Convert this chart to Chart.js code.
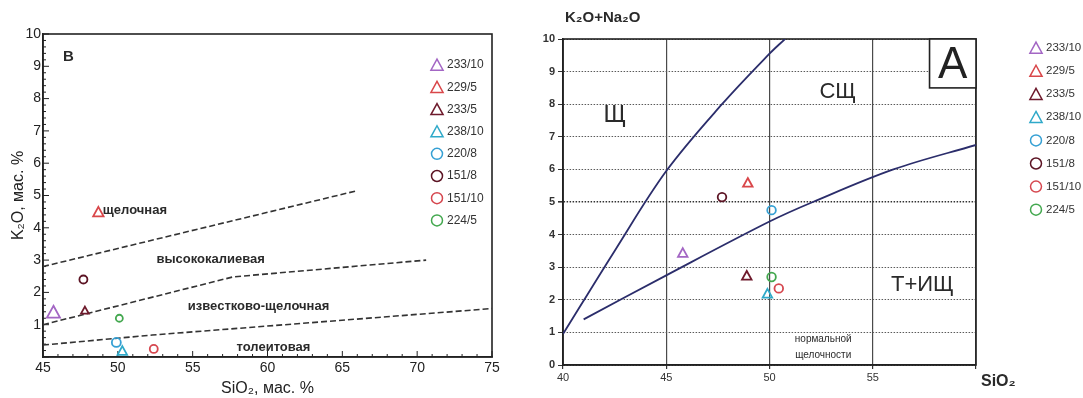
<!DOCTYPE html>
<html>
<head>
<meta charset="utf-8">
<script src="https://cdn.jsdelivr.net/npm/chart.js@4.4.1/dist/chart.umd.min.js"></script>
<style>
  html, body { margin: 0; padding: 0; background: #fff; }
  #wrap { position: relative; width: 1083px; height: 398px; overflow: hidden; }
  #left { position: absolute; left: 0; top: 0; }
  #right { position: absolute; left: 530px; top: 0; }
</style>
</head>
<body>
<div id="wrap">
  <canvas id="left" width="530" height="398"></canvas>
  <canvas id="right" width="553" height="398"></canvas>
</div>
<script>
// samples (same order in both diagrams and legends)
const samples = ['233/10', '229/5', '233/5', '238/10', '220/8', '151/8', '151/10', '224/5'];
const sampleShapes = ['triangle', 'triangle', 'triangle', 'triangle', 'circle', 'circle', 'circle', 'circle'];
const sampleColors = ['#a366c4', '#d9474a', '#6e1a2c', '#2fa9c9', '#35a0d4', '#5c1424', '#d6474f', '#43a84f'];

// diagram B: K2O vs SiO2
const kSiO2 = [45.7, 48.7, 47.8, 50.3, 49.9, 47.7, 52.4, 50.1];
const kK2O = [1.4, 4.5, 1.45, 0.2, 0.45, 2.4, 0.25, 1.2];
const bLeftRadius = [7.5, 6, 4.5, 5.5, 4.5, 4, 4, 3.5];

// boundary lines of diagram B
const lineAlkX = [45, 66];
const lineAlkY = [2.8, 5.15];
const lineHighKX = [45, 57.7, 70.6];
const lineHighKY = [1.0, 2.48, 3.0];
const lineTholX = [45, 52.3, 75];
const lineTholY = [0.37, 0.68, 1.5];

// diagram A: K2O+Na2O vs SiO2
const tasSiO2 = [45.8, 48.95, 48.9, 49.9, 50.1, 47.7, 50.45, 50.1];
const tasAlk = [3.45, 5.6, 2.75, 2.2, 4.75, 5.15, 2.35, 2.7];

// boundary curves of diagram A
const curveAlkX = [40, 42.5, 45, 47.7, 50, 50.75];
const curveAlkY = [0.95, 3.5, 5.95, 8.0, 9.55, 10];
const curveSubX = [41, 45, 50, 52.1, 56, 60];
const curveSubY = [1.4, 2.75, 4.4, 5.0, 6.0, 6.75];

// tick labels
const bTicksX = [45, 50, 55, 60, 65, 70, 75];
const bTicksY = [1, 2, 3, 4, 5, 6, 7, 8, 9, 10];
const aTicksX = [40, 45, 50, 55];
const aTicksY = [0, 1, 2, 3, 4, 5, 6, 7, 8, 9, 10];

const FONT = "'Liberation Sans', Arial, sans-serif";

function zip(xs, ys) {
  return xs.map((x, i) => ({ x, y: ys[i] }));
}

function drawMarker(ctx, shape, x, y, r, color, lw) {
  ctx.save();
  ctx.strokeStyle = color;
  ctx.lineWidth = lw;
  ctx.beginPath();
  if (shape === 'triangle') {
    for (let k = 0; k < 3; k++) {
      const a = -Math.PI / 2 + k * 2 * Math.PI / 3;
      const px = x + Math.cos(a) * r;
      const py = y + Math.sin(a) * r * 1.05;
      if (k === 0) ctx.moveTo(px, py); else ctx.lineTo(px, py);
    }
    ctx.closePath();
  } else {
    ctx.arc(x, y, r, 0, Math.PI * 2);
  }
  ctx.stroke();
  ctx.restore();
}

function tickFilter(list) {
  return (v) => (list.includes(v) ? v : '');
}

// frame, minor ticks, texts and legend are drawn by this plugin
function framePlugin(opts) {
  return {
    id: 'frame',
    beforeDatasetsDraw(chart) {
      const { ctx, chartArea: a, scales } = chart;
      ctx.save();
      ctx.strokeStyle = '#222';
      ctx.lineWidth = 1.6;
      ctx.strokeRect(a.left, a.top, a.right - a.left, a.bottom - a.top);
      if (opts.minorTicks) {
        ctx.lineWidth = 1;
        ctx.beginPath();
        for (let i = 0; i <= 50; i++) {
          const y = scales.y.getPixelForValue(i / 5);
          const len = i % 5 === 0 ? 6 : 3;
          ctx.moveTo(a.left, y);
          ctx.lineTo(a.left + len, y);
        }
        for (let v = 45; v <= 75; v++) {
          const x = scales.x.getPixelForValue(v);
          const len = v % 5 === 0 ? 6 : 3;
          ctx.moveTo(x, a.bottom);
          ctx.lineTo(x, a.bottom - len);
        }
        ctx.stroke();
      }
      ctx.restore();
    },
    afterDraw(chart) {
      const { ctx, chartArea: a, scales } = chart;
      ctx.save();
      ctx.fillStyle = '#2a2a2a';
      ctx.textBaseline = 'middle';
      for (const t of opts.texts) {
        ctx.font = t.font;
        ctx.textAlign = t.align || 'center';
        const x = t.px !== undefined ? t.px(a) : scales.x.getPixelForValue(t.x);
        const y = t.py !== undefined ? t.py(a) : scales.y.getPixelForValue(t.y);
        ctx.fillText(t.text, x, y);
      }
      if (opts.box) {
        const x0 = scales.x.getPixelForValue(opts.box.x);
        const y1 = scales.y.getPixelForValue(opts.box.y);
        ctx.fillStyle = '#fff';
        ctx.fillRect(x0, a.top, a.right - x0, y1 - a.top);
        ctx.strokeStyle = '#222';
        ctx.lineWidth = 1.6;
        ctx.strokeRect(x0, a.top, a.right - x0, y1 - a.top);
        ctx.fillStyle = '#222';
        ctx.font = '44px ' + FONT;
        ctx.textAlign = 'center';
        ctx.fillText(opts.box.text, (x0 + a.right) / 2, (a.top + y1) / 2 + 2);
      }
      // legend
      const lg = opts.legend;
      ctx.font = lg.font + 'px ' + FONT;
      ctx.textAlign = 'left';
      samples.forEach((name, i) => {
        const y = lg.y + i * lg.step;
        const r = sampleShapes[i] === 'triangle' ? 7 : 5.5;
        drawMarker(ctx, sampleShapes[i], lg.x, y + (sampleShapes[i] === 'triangle' ? 1.5 : 0), r, sampleColors[i], 1.5);
        ctx.fillStyle = '#333';
        ctx.fillText(name, lg.x + 10, y);
      });
      ctx.restore();
    }
  };
}

// markers drawn through the scales
const markerPlugin = {
  id: 'markers',
  afterDatasetsDraw(chart) {
    const { ctx } = chart;
    chart.data.datasets.forEach((ds, di) => {
      if (ds.sample === undefined) return;
      const meta = chart.getDatasetMeta(di);
      meta.data.forEach((pt) => {
        const i = ds.sample;
        const dy = sampleShapes[i] === 'triangle' ? ds.markerR * 0.25 : 0;
        drawMarker(ctx, sampleShapes[i], pt.x, pt.y + dy, ds.markerR, sampleColors[i], 1.8);
      });
    });
  }
};

function boundary(xs, ys, color, dash, width, tension) {
  return {
    data: zip(xs, ys),
    showLine: true,
    borderColor: color,
    borderWidth: width,
    borderDash: dash,
    pointRadius: 0,
    tension: tension,
    fill: false,
  };
}

// ---------- diagram B ----------
const leftDatasets = [
  boundary(lineAlkX, lineAlkY, '#333', [6, 3], 1.6, 0),
  boundary(lineHighKX, lineHighKY, '#333', [6, 3], 1.6, 0),
  boundary(lineTholX, lineTholY, '#333', [6, 3], 1.6, 0),
];
samples.forEach((name, i) => {
  leftDatasets.push({
    label: name,
    sample: i,
    markerR: bLeftRadius[i],
    data: [{ x: kSiO2[i], y: kK2O[i] }],
    pointRadius: 0,
    showLine: false,
  });
});

new Chart(document.getElementById('left'), {
  type: 'scatter',
  data: { datasets: leftDatasets },
  options: {
    responsive: false,
    animation: false,
    layout: { padding: { top: 34, right: 38, left: 0, bottom: 0 } },
    plugins: { legend: { display: false }, tooltip: { enabled: false } },
    scales: {
      x: {
        type: 'linear', min: 45, max: 75,
        afterBuildTicks: (s) => { s.ticks = bTicksX.map(v => ({ value: v })); },
        afterFit: (s) => { s.height = 41; },
        ticks: { color: '#222', padding: 3, font: { size: 14, family: FONT }, callback: tickFilter(bTicksX) },
        grid: { display: false, drawTicks: false },
        border: { display: true, color: '#222', width: 1.6 },
        title: { display: true, text: 'SiO₂, мас. %', color: '#222', padding: 0, font: { size: 16, family: FONT } },
      },
      y: {
        type: 'linear', min: 0, max: 10,
        afterBuildTicks: (s) => { s.ticks = bTicksY.map(v => ({ value: v })); },
        afterFit: (s) => { s.width = 43; },
        ticks: { color: '#222', padding: 2, font: { size: 14, family: FONT }, callback: tickFilter(bTicksY) },
        grid: { display: false, drawTicks: false },
        border: { display: true, color: '#222', width: 1.6 },
        title: { display: true, text: 'K₂O, мас. %', color: '#222', padding: { top: 9, bottom: 0 }, font: { size: 16, family: FONT } },
      },
    },
  },
  plugins: [
    framePlugin({
      minorTicks: true,
      texts: [
        { text: 'В', x: 46.7, y: 9.3, font: 'bold 15px ' + FONT },
        { text: 'щелочная', x: 49.0, y: 4.55, align: 'left', font: 'bold 13px ' + FONT },
        { text: 'высококалиевая', x: 56.2, y: 3.03, font: 'bold 13px ' + FONT },
        { text: 'известково-щелочная', x: 59.4, y: 1.58, font: 'bold 13px ' + FONT },
        { text: 'толеитовая', x: 60.4, y: 0.31, font: 'bold 13px ' + FONT },
      ],
      legend: { x: 437, y: 65, step: 22.2, font: 12 },
    }),
    markerPlugin,
  ],
});

// ---------- diagram A ----------
const rightDatasets = [
  boundary(curveAlkX, curveAlkY, '#2b2d6b', [], 1.8, 0.35),
  boundary(curveSubX, curveSubY, '#2b2d6b', [], 1.8, 0.35),
];
samples.forEach((name, i) => {
  rightDatasets.push({
    label: name,
    sample: i,
    markerR: sampleShapes[i] === 'triangle' ? 5.5 : 4.3,
    data: [{ x: tasSiO2[i], y: tasAlk[i] }],
    pointRadius: 0,
    showLine: false,
  });
});

new Chart(document.getElementById('right'), {
  type: 'scatter',
  data: { datasets: rightDatasets },
  options: {
    responsive: false,
    animation: false,
    layout: { padding: { top: 39, right: 107, left: 0, bottom: 0 } },
    plugins: { legend: { display: false }, tooltip: { enabled: false } },
    scales: {
      x: {
        type: 'linear', min: 40, max: 60,
        afterBuildTicks: (s) => { s.ticks = [40, 45, 50, 55, 60].map(v => ({ value: v })); },
        afterFit: (s) => { s.height = 33; },
        ticks: { color: '#333', padding: 2, font: { size: 11, family: FONT }, callback: tickFilter(aTicksX) },
        grid: { color: '#4a4a4a', lineWidth: 1.2, tickLength: 4, tickColor: '#333' },
        border: { display: true, color: '#222', width: 1.6 },
      },
      y: {
        type: 'linear', min: 0, max: 10,
        afterBuildTicks: (s) => { s.ticks = aTicksY.map(v => ({ value: v })); },
        afterFit: (s) => { s.width = 33; },
        ticks: { color: '#333', padding: 3, font: { size: 11, weight: 'bold', family: FONT }, callback: tickFilter(aTicksY) },
        grid: {
          color: (c) => (c.tick && c.tick.value === 5 ? '#333' : '#5a5a5a'),
          lineWidth: (c) => (c.tick && c.tick.value === 5 ? 1.6 : 1),
          tickLength: 5, tickColor: '#333', tickBorderDash: [],
        },
        border: { display: true, color: '#222', width: 1.6, dash: [1.5, 1.5] },
      },
    },
  },
  plugins: [
    framePlugin({
      minorTicks: false,
      texts: [
        { text: 'K₂O+Na₂O', px: (a) => a.left + 2, py: (a) => a.top - 21, align: 'left', font: 'bold 15px ' + FONT },
        { text: 'SiO₂', px: (a) => a.right + 5, py: (a) => a.bottom + 17, align: 'left', font: 'bold 16px ' + FONT },
        { text: 'Щ', x: 42.5, y: 7.65, font: '24px ' + FONT },
        { text: 'СЩ', x: 53.3, y: 8.37, font: '22px ' + FONT },
        { text: 'Т+ИЩ', x: 57.4, y: 2.45, font: '22px ' + FONT },
        { text: 'нормальной', x: 52.6, y: 0.78, font: '10px ' + FONT },
        { text: 'щелочности', x: 52.6, y: 0.3, font: '10px ' + FONT },
      ],
      box: { x: 57.75, y: 8.5, text: 'А' },
      legend: { x: 506, y: 48, step: 23.1, font: 11.5 },
    }),
    markerPlugin,
  ],
});
</script>
</body>
</html>
